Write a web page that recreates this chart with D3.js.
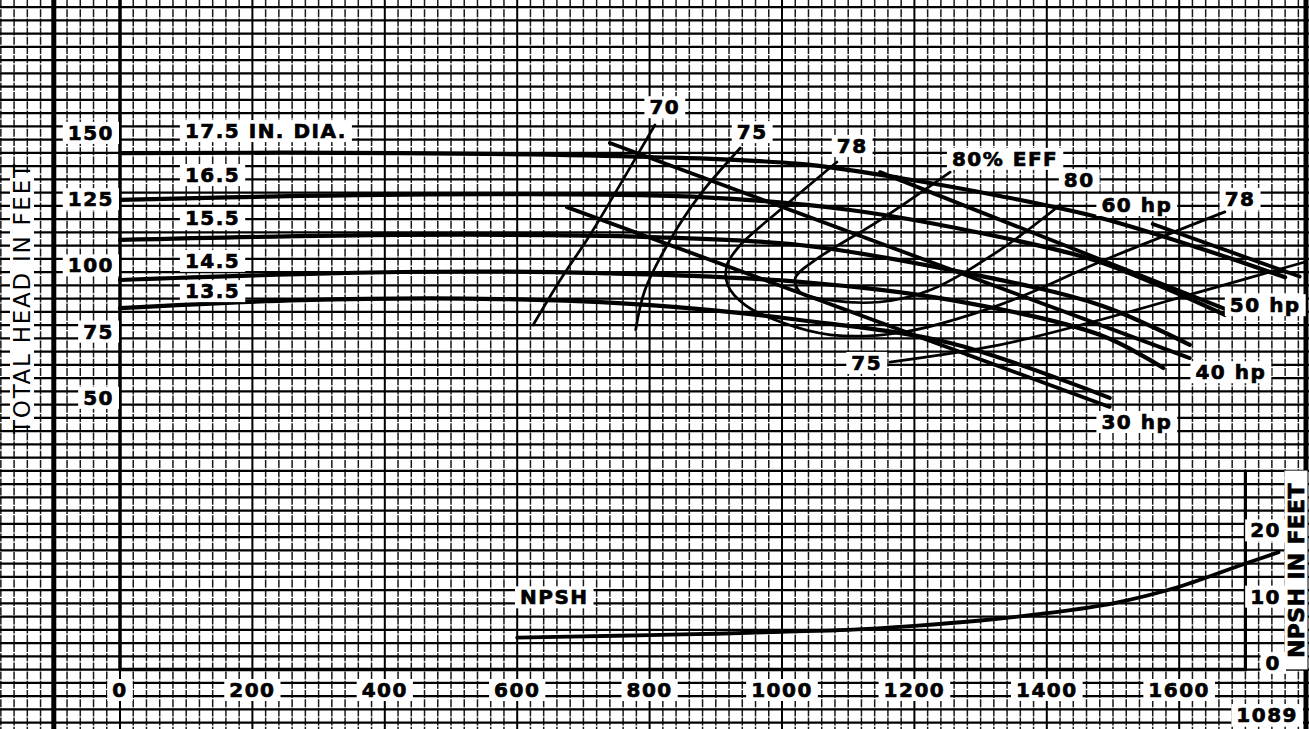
<!DOCTYPE html>
<html>
<head>
<meta charset="utf-8">
<script src="https://cdnjs.cloudflare.com/ajax/libs/d3/7.8.5/d3.min.js"></script>
<style>
  body { margin: 0; background: #fff; }
  text { font-family: "DejaVu Sans", sans-serif; }
</style>
</head>
<body>
<div id="chart"></div>
<script>
var width = 1309, height = 729;

// axis ticks
var gpmTicks = [0, 200, 400, 600, 800, 1000, 1200, 1400, 1600];
var headTicks = [50, 75, 100, 125, 150];
var npshTicks = [0, 10, 20];

// head curves, [gpm, feet]
var dia175 = [[0,142.4],[423,142.4],[801,140.9],[1027,138.3],[1178,133.0],[1329,126.2],[1480,118.0],[1631,106.5],[1760,95.5]];
var dia165 = [[0,124.7],[272,126.2],[574,126.9],[876,125.8],[1103,120.9],[1329,110.7],[1480,101.3],[1669,81.3]];
var dia155 = [[0,109.6],[423,111.5],[801,110.7],[1027,107.7],[1254,98.3],[1480,85.1],[1616,70]];
var dia145 = [[0,94.5],[423,97.5],[725,97.1],[1027,93.8],[1254,87],[1480,73.8],[1576,61.3]];
var dia135 = [[0,83.9],[272,86.9],[574,87.3],[801,85],[1027,79.4],[1254,70.7],[1495,50]];

// power lines
var hp60 = [[1560,115.6],[1782,95.8]];
var hp50 = [[1148,135.2],[1669,83.6]];
var hp40 = [[740,146.2],[1616,65]];
var hp30 = [[675,122],[1495,46.6]];

// efficiency curves
var eff70 = [[624,77.5],[665,94.5],[710,111.5],[755,130.3],[808,153]];
var eff75a = [[779,75.7],[793,90.7],[831,109.6],[876,126.6],[937,144.3]];
var eff78 = [[1083,139],[997,120.9],[937,107.7],[917,100.2],[918,92.6],[944,85.1],[997,78.7],[1073,73.8],[1178,74.6],[1329,85.1],[1480,101.3],[1669,120.2]];
var eff80 = [[1254,135.2],[1148,117.1],[1050,102],[1020,95.2],[1027,90],[1073,86.9],[1148,86.2],[1224,90.7],[1329,105.8],[1420,122.8]];
var eff75b = [[1163,63.5],[1329,70],[1480,79.4],[1631,90],[1790,101.3]];

// NPSH required, [gpm, feet]
var npshGpm = [600, 700, 800, 900, 1000, 1100, 1200, 1300, 1400, 1500, 1600, 1700, 1750];
var npshFt  = [3.8, 4.0, 4.2, 4.4, 4.7, 5.0, 5.6, 6.4, 7.5, 9.0, 11.5, 15.0, 16.7];

// curve labels [text, gpm, head, anchor]
var headLabels = [
  ["17.5   IN. DIA.", 98, 150.7, "start"],
  ["16.5", 98, 134.1, "start"],
  ["15.5", 98, 117.9, "start"],
  ["14.5", 98, 101.7, "start"],
  ["13.5", 98, 90.3, "start"],
  ["70", 823, 159.7, "middle"],
  ["75", 955, 150.3, "middle"],
  ["78", 1106, 145.1, "middle"],
  ["80% EFF", 1337, 140.2, "middle"],
  ["80", 1449, 132.2, "middle"],
  ["60 hp", 1536, 122.8, "middle"],
  ["78", 1692, 125.1, "middle"],
  ["50 hp", 1730, 85, "middle"],
  ["40 hp", 1678, 59.7, "middle"],
  ["30 hp", 1536, 40.9, "middle"],
  ["75", 1128, 63.2, "middle"]
];

var svg = d3.select("#chart")
  .append("svg")
  .attr("width", width)
  .attr("height", height)
  .style("background", "#fff");

var x = d3.scaleLinear().domain([0, 1600]).range([120, 1179.2]);
var y = d3.scaleLinear().domain([50, 150]).range([397.9, 132.9]);
var yN = d3.scaleLinear().domain([0, 20]).range([662.9, 530.4]);
var axisY = 669.5;

// graph paper
var grid = svg.append("g");
d3.range(-180, 1781, 20).forEach(function(g) {
  var major = (g % 200 === 0);
  grid.append("line")
    .attr("x1", x(g)).attr("x2", x(g))
    .attr("y1", 0).attr("y2", height)
    .attr("stroke", major ? "#000" : "#1a1a1a")
    .attr("stroke-width", major ? 2 : 1.5)
    .attr("stroke-dasharray", major ? null : "8,1.2");
});
d3.range(-72.5, 200, 5).forEach(function(h) {
  grid.append("line")
    .attr("x1", 0).attr("x2", width)
    .attr("y1", y(h)).attr("y2", y(h))
    .attr("stroke", "#000")
    .attr("stroke-width", 2.2);
});

// frame lines
svg.append("line").attr("x1", x(-100)).attr("x2", x(-100)).attr("y1", 0).attr("y2", height)
  .attr("stroke", "#000").attr("stroke-width", 5);
svg.append("line").attr("x1", 1306).attr("x2", 1306).attr("y1", 0).attr("y2", height)
  .attr("stroke", "#000").attr("stroke-width", 5);
svg.append("line").attr("x1", x(0)).attr("x2", x(0)).attr("y1", 0).attr("y2", axisY + 1.5)
  .attr("stroke", "#000").attr("stroke-width", 3.5);
svg.append("line").attr("x1", x(0)).attr("x2", x(1700) + 1.5).attr("y1", axisY).attr("y2", axisY)
  .attr("stroke", "#000").attr("stroke-width", 3.5);
svg.append("line").attr("x1", x(1700)).attr("x2", x(1700)).attr("y1", axisY - 15 * 13.25).attr("y2", axisY)
  .attr("stroke", "#000").attr("stroke-width", 3.2);

var line = d3.line()
  .x(function(d) { return x(d[0]); })
  .y(function(d) { return y(d[1]); })
  .curve(d3.curveCatmullRom.alpha(0.5));

var curves = svg.append("g").attr("fill", "none").attr("stroke", "#000").attr("stroke-linecap", "round");
[dia175, dia165, dia155, dia145, dia135].forEach(function(c) {
  curves.append("path").attr("d", line(c)).attr("stroke-width", 4.2);
});
[hp60, hp50, hp40, hp30].forEach(function(c) {
  curves.append("path").attr("d", line(c)).attr("stroke-width", 3.8);
});
[eff70, eff75a, eff78, eff80, eff75b].forEach(function(c) {
  curves.append("path").attr("d", line(c)).attr("stroke-width", 2.7);
});

var npshLine = d3.line()
  .x(function(d, i) { return x(npshGpm[i]); })
  .y(function(d) { return yN(d); })
  .curve(d3.curveCatmullRom.alpha(0.5));
curves.append("path").attr("d", npshLine(npshFt)).attr("stroke-width", 3.8);

// labels with the paper knocked out behind them
function boxed(txt, px, py, anchor, size, weight, rotate) {
  var g = svg.append("g").attr("transform", "translate(" + px + "," + py + ")" + (rotate ? " rotate(" + rotate + ")" : ""));
  var r = g.append("rect").attr("fill", "#fff");
  var t = g.append("text")
    .attr("text-anchor", anchor)
    .attr("dominant-baseline", "central")
    .attr("font-size", size)
    .attr("font-weight", weight || "bold")
    .attr("letter-spacing", weight === "normal" ? 0 : 1.5)
    .attr("stroke", weight === "normal" ? null : "#000")
    .attr("stroke-width", weight === "normal" ? 0 : 0.7)
    .text(txt);
  var b = t.node().getBBox();
  r.attr("x", b.x - 5).attr("y", b.y + 1).attr("width", b.width + 10).attr("height", b.height - 2);
  return t;
}

gpmTicks.forEach(function(v) { boxed(String(v), x(v), 690, "middle", 20); });
headTicks.forEach(function(v) { boxed(String(v), 114, y(v), "end", 20); });
npshTicks.forEach(function(v) { boxed(String(v), 1281, yN(v), "end", 20); });

headLabels.forEach(function(l) { boxed(l[0], x(l[1]), y(l[2]), l[3], 20); });
boxed("NPSH", x(656), yN(9.9), "middle", 20);
boxed("1089", 1298, 715, "end", 20);

boxed("TOTAL HEAD IN FEET", 22, 299, "middle", 23, "normal", -90).attr("textLength", 270);
boxed("NPSH IN FEET", 1296, 570, "middle", 22, "bold", -90).attr("textLength", 176);
</script>
</body>
</html>
